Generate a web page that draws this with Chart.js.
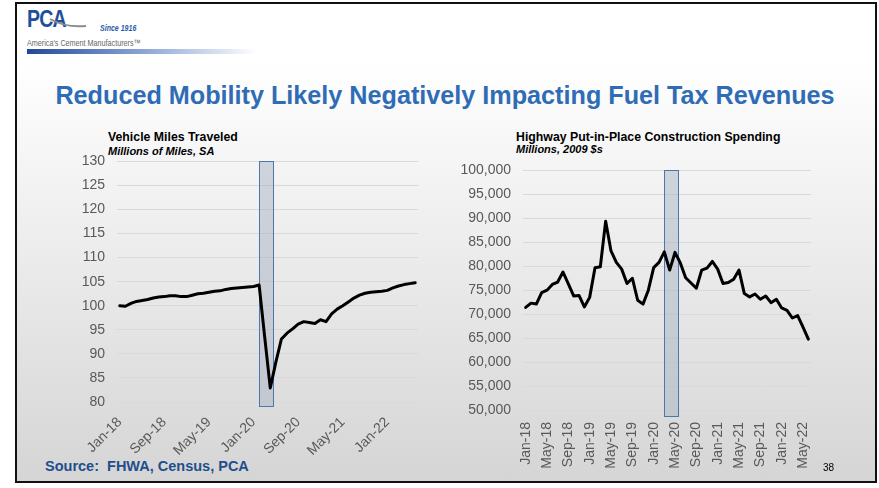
<!DOCTYPE html>
<html>
<head>
<meta charset="utf-8">
<script src="https://cdn.jsdelivr.net/npm/chart.js@4"></script>
<style>
  body { margin: 0; width: 879px; height: 488px; background: #fff; overflow: hidden; font-family: "Liberation Sans", Arial, sans-serif; }
  .slide { position: absolute; left: 15px; top: 2px; width: 862px; height: 481px; box-sizing: border-box; border: 2px solid #111;
           background: linear-gradient(to bottom, #ffffff 12%, #d5d5d5 100%); }
  .abs { position: absolute; white-space: nowrap; }
  .pca { left: 27px; top: 6px; font-size: 23px; font-weight: bold; color: #1f4f9a; letter-spacing: -1px; transform: scaleX(0.85); transform-origin: left; }
  .since { left: 100px; top: 23px; font-size: 9px; font-style: italic; font-weight: bold; color: #2a5aa8; transform: scaleX(0.78); transform-origin: left; }
  .amer { left: 27px; top: 38px; font-size: 9px; color: #666; transform: scaleX(0.8); transform-origin: left; }
  .bar { left: 27px; top: 49px; width: 230px; height: 5px; background: linear-gradient(to right, #21489a 0%, #7f9bd0 45%, rgba(255,255,255,0) 100%); }
  .title { left: 0; width: 890px; top: 81px; text-align: center; font-size: 25.2px; font-weight: bold; color: #2f6cb6; }
  .ctitle { font-size: 12.3px; font-weight: bold; color: #000; }
  .csub { font-size: 11px; font-weight: bold; font-style: italic; color: #000; }
  .source { left: 45px; top: 458px; font-size: 14.5px; font-weight: bold; color: #1f4e8c; }
  .page { left: 823px; top: 462px; font-size: 10px; color: #000; }
  canvas { position: absolute; }
</style>
</head>
<body>
<div class="slide"></div>
<div class="abs pca">PCA</div>
<svg class="abs" style="left:48px;top:16px" width="40" height="14"><path d="M2 3 Q18 12 38 10" stroke="#8c8c8c" stroke-width="2" fill="none"/></svg>
<div class="abs since">Since 1916</div>
<div class="abs amer">America's Cement Manufacturers™</div>
<div class="abs bar"></div>
<div class="abs title">Reduced Mobility Likely Negatively Impacting Fuel Tax Revenues</div>

<div class="abs ctitle" style="left:108px;top:130px">Vehicle Miles Traveled</div>
<div class="abs csub" style="left:108px;top:145px">Millions of Miles, SA</div>
<div class="abs ctitle" style="left:516px;top:130px">Highway Put-in-Place Construction Spending</div>
<div class="abs csub" style="left:516px;top:143px">Millions, 2009 $s</div>

<canvas id="vmtChart" style="left:40px;top:141px" width="400" height="314"></canvas>
<canvas id="hwyChart" style="left:440px;top:150px" width="430" height="320"></canvas>

<div class="abs source">Source:&nbsp; FHWA, Census, PCA</div>
<div class="abs page">38</div>

<script>
var months = ['Jan-18','Feb-18','Mar-18','Apr-18','May-18','Jun-18','Jul-18','Aug-18','Sep-18','Oct-18','Nov-18','Dec-18',
              'Jan-19','Feb-19','Mar-19','Apr-19','May-19','Jun-19','Jul-19','Aug-19','Sep-19','Oct-19','Nov-19','Dec-19',
              'Jan-20','Feb-20','Mar-20','Apr-20','May-20','Jun-20','Jul-20','Aug-20','Sep-20','Oct-20','Nov-20','Dec-20',
              'Jan-21','Feb-21','Mar-21','Apr-21','May-21','Jun-21','Jul-21','Aug-21','Sep-21','Oct-21','Nov-21','Dec-21',
              'Jan-22','Feb-22','Mar-22','Apr-22','May-22','Jun-22'];

// vehicle miles traveled, millions, SA
var vmt = [100.0, 99.9, 100.5, 100.9, 101.1, 101.3, 101.6, 101.8, 101.9, 102.1, 102.1, 101.9,
           101.9, 102.2, 102.5, 102.6, 102.8, 103.0, 103.1, 103.4, 103.6, 103.7, 103.8, 103.9,
           104.0, 104.3, 93.5, 82.9, 88.3, 93.1, 94.3, 95.2, 96.2, 96.7, 96.5, 96.3,
           97.1, 96.7, 98.3, 99.3, 100.0, 100.8, 101.6, 102.2, 102.6, 102.8, 102.9, 103.0,
           103.2, 103.7, 104.1, 104.4, 104.6, 104.8];

// highway put-in-place spending, millions 2009 $
var hwy = [71400, 72300, 72100, 74500, 75000, 76200, 76700, 78800, 76300, 73800, 73900, 71500,
           73500, 79700, 79900, 89400, 83200, 80800, 79400, 76400, 77500, 72900, 72100, 75000,
           79700, 80800, 83000, 79200, 82900, 80700, 77600, 76500, 75400, 79200, 79600, 81000,
           79400, 76400, 76600, 77300, 79200, 74300, 73600, 74200, 73100, 73800, 72400, 73100,
           71300, 70800, 69200, 69700, 67300, 64800];

var vmtTicks = [80, 130, 5];
var hwyTicks = [50000, 100000, 5000];
var vmtLabelEvery = 8;
var hwyLabelEvery = 4;
// shaded covid band, as category positions
var vmtShade = [25, 27.5];
var hwyShade = [26, 28.6];

Chart.defaults.font.family = '"Liberation Sans", Arial, sans-serif';
Chart.defaults.color = '#595959';

var shadePlugin = {
    id: 'shade',
    beforeDatasetsDraw: function (chart, args, opts) {
        var ctx = chart.ctx, area = chart.chartArea, x = chart.scales.x;
        var x1 = x.getPixelForValue(opts.band[0]);
        var x2 = x.getPixelForValue(opts.band[1]);
        var top = area.top, bottom = area.bottom + opts.below;
        ctx.save();
        ctx.fillStyle = 'rgba(170,180,196,0.5)';
        ctx.fillRect(x1, top, x2 - x1, bottom - top);
        ctx.strokeStyle = '#4a78ad';
        ctx.lineWidth = 1;
        ctx.strokeRect(Math.round(x1) + 0.5, Math.round(top) + 0.5, Math.round(x2 - x1), Math.round(bottom - top));
        ctx.restore();
    }
};

function makeChart(id, values, ticks, every, rot, band, below, yWidth, xHeight, pad, fmt) {
    return new Chart(document.getElementById(id), {
        type: 'line',
        data: {
            labels: months,
            datasets: [{
                data: values,
                borderColor: '#000',
                borderWidth: 3,
                borderJoinStyle: 'round',
                borderCapStyle: 'round',
                pointRadius: 0,
                tension: 0
            }]
        },
        options: {
            responsive: false,
            animation: false,
            layout: { padding: pad },
            plugins: {
                legend: { display: false },
                tooltip: { enabled: false },
                shade: { band: band, below: below }
            },
            scales: {
                x: {
                    offset: true,
                    grid: { display: false },
                    border: { display: false },
                    afterFit: function (s) { s.height = xHeight; },
                    ticks: {
                        autoSkip: false,
                        minRotation: rot,
                        maxRotation: rot,
                        padding: 4,
                        font: { size: 14 },
                        callback: function (v, i) { return i % every === 0 ? months[i] : ''; }
                    }
                },
                y: {
                    min: ticks[0],
                    max: ticks[1],
                    grid: { color: '#d9d9d9', drawTicks: false, lineWidth: 1 },
                    border: { display: false },
                    afterFit: function (s) { s.width = yWidth; },
                    ticks: {
                        stepSize: ticks[2],
                        padding: 12,
                        font: { size: 14 },
                        callback: fmt
                    }
                }
            }
        },
        plugins: [shadePlugin]
    });
}

makeChart('vmtChart', vmt, vmtTicks, vmtLabelEvery, 45, vmtShade, 4, 77, 53,
    { top: 0, right: 22, left: 0, bottom: 0 },
    function (v) { return v; });

makeChart('hwyChart', hwy, hwyTicks, hwyLabelEvery, 90, hwyShade, 6, 83, 60,
    { top: 0, right: 59, left: 0, bottom: 0 },
    function (v) { return v.toLocaleString('en-US'); });
</script>
</body>
</html>
